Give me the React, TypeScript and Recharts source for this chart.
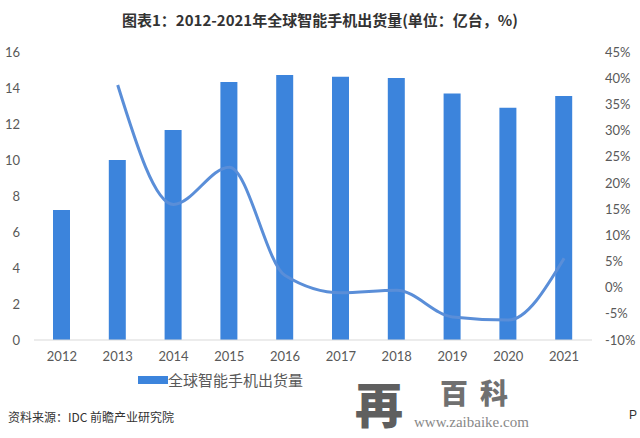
import React from "react";
import { ComposedChart, Bar, Line, XAxis, YAxis } from "recharts";

const years = ["2012", "2013", "2014", "2015", "2016", "2017", "2018", "2019", "2020", "2021"];
const shipments = [7.22, 10.0, 11.67, 14.33, 14.72, 14.62, 14.55, 13.7, 12.9, 13.55];
const growth = [null, 38.7, 15.9, 23.0, 2.3, -1.0, -0.5, -5.6, -6.2, 5.6];
const leftTicks = [0, 2, 4, 6, 8, 10, 12, 14, 16];
const rightTicks = [-10, -5, 0, 5, 10, 15, 20, 25, 30, 35, 40, 45];

const data = years.map((year, i) => ({
  year,
  shipments: shipments[i],
  growth: growth[i],
}));

const tickStyle = { fill: "#595959", fontSize: 13, fontFamily: "Lato, sans-serif" };

export default function App() {
  return (
    <div
      style={{
        position: "absolute",
        left: 0,
        top: 0,
        width: 640,
        height: 438,
        background: "#fff",
        overflow: "hidden",
      }}
    >
      <div
        style={{
          position: "absolute",
          top: 9,
          left: 0,
          width: 640,
          textAlign: "center",
          fontFamily: "'Noto Sans CJK SC', sans-serif",
          fontWeight: 700,
          fontSize: 15,
          color: "#333",
        }}
      >
        图表1：2012-2021年全球智能手机出货量(单位：亿台，%)
      </div>

      <ComposedChart
        width={640}
        height={438}
        data={data}
        margin={{ top: 52, right: 0, bottom: 68, left: 0 }}
      >
        <XAxis
          dataKey="year"
          tick={tickStyle}
          tickLine={false}
          tickSize={0}
          tickMargin={12}
          axisLine={{ stroke: "#d9d9d9" }}
        />
        <YAxis
          yAxisId="left"
          width={34}
          domain={[0, 16]}
          ticks={leftTicks}
          tick={tickStyle}
          tickLine={false}
          tickSize={0}
          tickMargin={14}
          axisLine={false}
        />
        <YAxis
          yAxisId="right"
          orientation="right"
          width={48}
          domain={[-10, 45]}
          ticks={rightTicks}
          tickFormatter={(v: number) => `${v}%`}
          tick={{ ...tickStyle, textAnchor: "start" }}
          tickLine={false}
          tickSize={0}
          tickMargin={13}
          axisLine={false}
        />
        <Bar
          yAxisId="left"
          dataKey="shipments"
          name="全球智能手机出货量"
          fill="#3C84DC"
          barSize={17}
          isAnimationActive={false}
        />
        <Line
          yAxisId="right"
          dataKey="growth"
          type="monotone"
          stroke="#5A8ED8"
          strokeWidth={3}
          dot={false}
          activeDot={false}
          isAnimationActive={false}
        />
      </ComposedChart>

      {/* legend */}
      <div
        style={{
          position: "absolute",
          left: 138,
          top: 371,
          display: "flex",
          alignItems: "center",
        }}
      >
        <span style={{ display: "inline-block", width: 30, height: 8, background: "#3C84DC" }} />
        <span
          style={{
            fontFamily: "'Noto Sans CJK SC', sans-serif",
            fontSize: 15,
            color: "#595959",
            lineHeight: "18px",
          }}
        >
          全球智能手机出货量
        </span>
      </div>

      <div
        style={{
          position: "absolute",
          left: 8,
          top: 408,
          fontFamily: "'Noto Sans CJK SC', sans-serif",
          fontSize: 12,
          color: "#333",
        }}
      >
        资料来源：IDC 前瞻产业研究院
      </div>
      {/* zaibaike watermark */}
      <div
        style={{
          position: "absolute",
          left: 355,
          top: 367,
          fontFamily: "'Noto Sans CJK SC', serif",
          fontWeight: 900,
          fontSize: 48,
          color: "#5f5f5f",
          lineHeight: "normal",
        }}
      >
        再
      </div>
      <div
        style={{
          position: "absolute",
          left: 440,
          top: 376,
          fontFamily: "'Noto Sans CJK SC', serif",
          fontWeight: 900,
          fontSize: 28,
          letterSpacing: 12,
          color: "#707070",
          lineHeight: "32px",
        }}
      >
        百科
      </div>
      <div
        style={{
          position: "absolute",
          left: 414,
          top: 414,
          fontFamily: "'Liberation Serif', serif",
          fontSize: 15,
          color: "#888",
        }}
      >
        www.zaibaike.com
      </div>
      <div
        style={{
          position: "absolute",
          left: 629,
          top: 408,
          fontFamily: "'Liberation Sans', sans-serif",
          fontSize: 12,
          color: "#333",
        }}
      >
        P
      </div>
    </div>
  );
}
